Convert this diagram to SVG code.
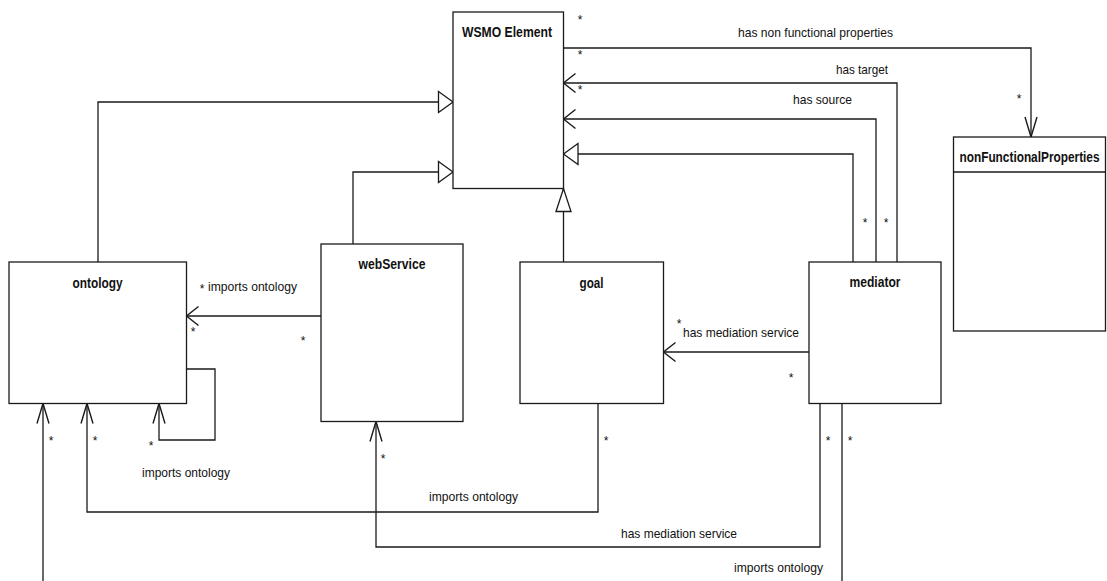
<svg xmlns="http://www.w3.org/2000/svg" width="1107" height="581" viewBox="0 0 1107 581">
  <style>
    .box { fill: #ffffff; stroke: #1a1a1a; stroke-width: 1.3; }
    .edge { fill: none; stroke: #1a1a1a; stroke-width: 1.3; }
    .title { font-family: "Liberation Sans", Arial, sans-serif; font-size: 15px; font-weight: bold; fill: #111; text-anchor: middle; }
    .lbl { font-family: "Liberation Sans", Arial, sans-serif; font-size: 13px; fill: #111; }
    .mult { font-family: "Liberation Sans", Arial, sans-serif; font-size: 12px; fill: #111; text-anchor: middle; }
  </style>
  <defs>
    <!-- open (stick) arrowheads: horizontal and vertical variants -->
    <marker id="open-h" markerUnits="userSpaceOnUse" markerWidth="30" markerHeight="30" viewBox="-20 -15 30 30" refX="0" refY="0" orient="auto" overflow="visible">
      <path d="M -12 -9.5 L 0 0 L -12 9.5" fill="none" stroke="#1a1a1a" stroke-width="1.4"/>
    </marker>
    <marker id="open-v" markerUnits="userSpaceOnUse" markerWidth="30" markerHeight="30" viewBox="-25 -15 30 30" refX="0" refY="0" orient="auto" overflow="visible">
      <path d="M -20 -6 L 0 0 L -20 6" fill="none" stroke="#1a1a1a" stroke-width="1.4"/>
    </marker>
    <!-- hollow generalization triangles -->
    <marker id="tri-h" markerUnits="userSpaceOnUse" markerWidth="30" markerHeight="30" viewBox="-20 -15 30 30" refX="0" refY="0" orient="auto" overflow="visible">
      <path d="M -14.5 -10.5 L 0 0 L -14.5 10.5 Z" fill="#ffffff" stroke="#1a1a1a" stroke-width="1.3"/>
    </marker>
    <marker id="tri-v" markerUnits="userSpaceOnUse" markerWidth="30" markerHeight="30" viewBox="-25 -15 30 30" refX="0" refY="0" orient="auto" overflow="visible">
      <path d="M -23 -7.5 L 0 0 L -23 7.5 Z" fill="#ffffff" stroke="#1a1a1a" stroke-width="1.3"/>
    </marker>
  </defs>

  <rect width="1107" height="581" fill="#ffffff"/>

  <!-- connectors -->
  <g id="connectors">
    <!-- generalizations to WSMO Element -->
    <path class="edge" d="M 98 262 V 102 H 453" marker-end="url(#tri-h)"/>
    <path class="edge" d="M 353 244 V 172 H 453" marker-end="url(#tri-h)"/>
    <path class="edge" d="M 563.5 262 V 188.5" marker-end="url(#tri-v)"/>
    <path class="edge" d="M 853 262 V 154 H 563.5" marker-end="url(#tri-h)"/>
    <!-- mediator associations to WSMO Element -->
    <path class="edge" d="M 876 262 V 119 H 563.5" marker-end="url(#open-h)"/>
    <path class="edge" d="M 897 262 V 83 H 563.5" marker-end="url(#open-h)"/>
    <!-- WSMO Element to nonFunctionalProperties -->
    <path class="edge" d="M 563.5 48 H 1031 V 137" marker-end="url(#open-v)"/>
    <!-- imports ontology -->
    <path class="edge" d="M 321 316 H 186.5" marker-end="url(#open-h)"/>
    <path class="edge" d="M 186.5 369 H 215 V 440 H 159 V 403.5" marker-end="url(#open-v)"/>
    <path class="edge" d="M 598 403.5 V 512 H 87 V 403.5" marker-end="url(#open-v)"/>
    <path class="edge" d="M 842 403.5 V 595 H 43 V 403.5" marker-end="url(#open-v)"/>
    <!-- has mediation service -->
    <path class="edge" d="M 820 403.5 V 547 H 376 V 421.5" marker-end="url(#open-v)"/>
    <path class="edge" d="M 809 352 H 663.5" marker-end="url(#open-h)"/>
  </g>

  <!-- nodes -->
  <g id="wsmo-element">
    <rect class="box" x="453" y="12" width="110.5" height="176.5"/>
    <text class="title" x="507" y="37" textLength="90" lengthAdjust="spacingAndGlyphs">WSMO Element</text>
  </g>
  <g id="non-functional-properties">
    <rect class="box" x="953.5" y="137" width="152" height="194"/>
    <line class="edge" x1="953.5" y1="172" x2="1105.5" y2="172"/>
    <!-- narrow title: squeezed horizontally so it sits inside the header -->
    <text class="title" transform="translate(1029.5 162) scale(0.79 1)" x="0" y="0">nonFunctionalProperties</text>
  </g>
  <g id="ontology">
    <rect class="box" x="9" y="262" width="177.5" height="141.5"/>
    <text class="title" x="97.5" y="288" textLength="50" lengthAdjust="spacingAndGlyphs">ontology</text>
  </g>
  <g id="web-service">
    <rect class="box" x="321" y="244" width="142" height="177.5"/>
    <text class="title" x="392" y="269" textLength="67" lengthAdjust="spacingAndGlyphs">webService</text>
  </g>
  <g id="goal">
    <rect class="box" x="520" y="262" width="143.5" height="141.5"/>
    <text class="title" x="591.5" y="288" textLength="24" lengthAdjust="spacingAndGlyphs">goal</text>
  </g>
  <g id="mediator">
    <rect class="box" x="809" y="262" width="132" height="141.5"/>
    <text class="title" x="875" y="287" textLength="51" lengthAdjust="spacingAndGlyphs">mediator</text>
  </g>

  <!-- connector labels -->
  <g id="labels">
    <text class="lbl" x="738" y="37" textLength="155" lengthAdjust="spacingAndGlyphs">has non functional properties</text>
    <text class="lbl" x="836" y="74" textLength="52" lengthAdjust="spacingAndGlyphs">has target</text>
    <text class="lbl" x="793" y="104" textLength="59" lengthAdjust="spacingAndGlyphs">has source</text>
    <text class="lbl" x="208" y="291" textLength="89" lengthAdjust="spacingAndGlyphs">imports ontology</text>
    <text class="lbl" x="683" y="337" textLength="116" lengthAdjust="spacingAndGlyphs">has mediation service</text>
    <text class="lbl" x="142" y="477" textLength="88" lengthAdjust="spacingAndGlyphs">imports ontology</text>
    <text class="lbl" x="429" y="501" textLength="89" lengthAdjust="spacingAndGlyphs">imports ontology</text>
    <text class="lbl" x="621" y="538" textLength="116" lengthAdjust="spacingAndGlyphs">has mediation service</text>
    <text class="lbl" x="734" y="572" textLength="89" lengthAdjust="spacingAndGlyphs">imports ontology</text>
  </g>

  <!-- multiplicities -->
  <g id="multiplicities">
    <text class="mult" x="580" y="24">*</text>
    <text class="mult" x="580" y="59">*</text>
    <text class="mult" x="580" y="94">*</text>
    <text class="mult" x="1019" y="103">*</text>
    <text class="mult" x="865" y="227">*</text>
    <text class="mult" x="886" y="227">*</text>
    <text class="mult" x="202" y="293">*</text>
    <text class="mult" x="193" y="336">*</text>
    <text class="mult" x="303" y="345">*</text>
    <text class="mult" x="679" y="328">*</text>
    <text class="mult" x="791" y="382">*</text>
    <text class="mult" x="51" y="445">*</text>
    <text class="mult" x="95" y="445">*</text>
    <text class="mult" x="151" y="450">*</text>
    <text class="mult" x="383" y="463">*</text>
    <text class="mult" x="606" y="445">*</text>
    <text class="mult" x="828" y="445">*</text>
    <text class="mult" x="850" y="445">*</text>
  </g>
</svg>
